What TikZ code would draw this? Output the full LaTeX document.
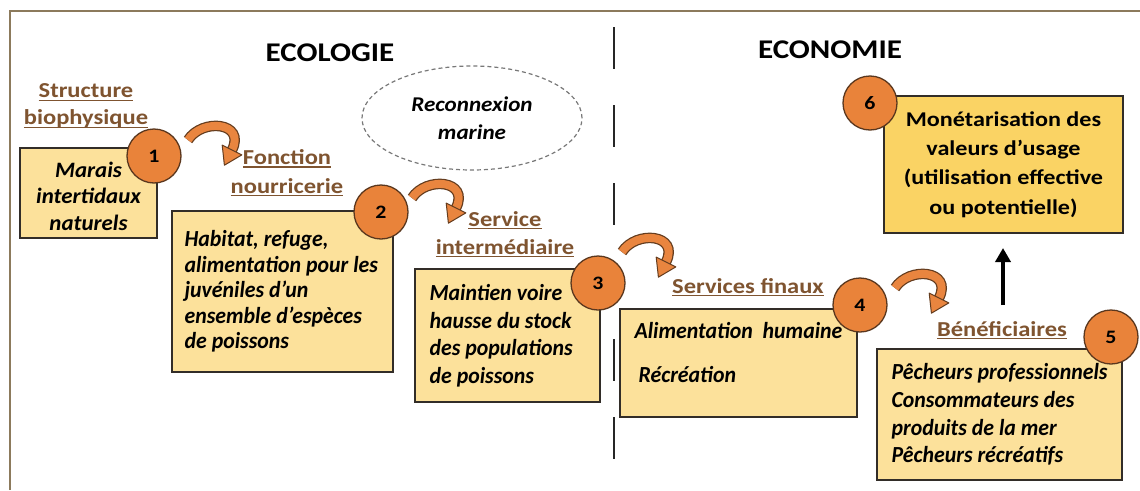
\documentclass[tikz,border=0pt]{standalone}
\usepackage{fontspec}
\setmainfont{Carlito}[FakeStretch=1.15]
\newfontfamily\fwide{Carlito}[FakeStretch=1.04]
\newfontfamily\fcond{Carlito}[FakeStretch=0.95]
\newfontfamily\fmid{Carlito}[FakeStretch=1.1]
\usetikzlibrary{shapes.geometric,arrows.meta,calc}
\newcommand{\hul}[1]{\setbox0=\hbox{#1}\hbox{\rlap{\rule[-3pt]{\wd0}{1.3pt}}\box0}}
\definecolor{boxfill}{RGB}{252,225,155}
\definecolor{boxfillsix}{RGB}{250,211,100}
\definecolor{boxline}{RGB}{50,45,40}
\definecolor{numfill}{RGB}{233,131,58}
\definecolor{numline}{RGB}{90,55,30}
\definecolor{headcol}{RGB}{127,84,48}
\definecolor{curlfill}{RGB}{233,133,63}
\definecolor{curldark}{RGB}{100,60,30}
\definecolor{framecol}{RGB}{140,122,92}
\definecolor{ellcol}{RGB}{120,120,120}
\tikzset{
  box/.style={draw=boxline, line width=1.3pt, fill=boxfill, inner sep=0pt},
  boxsix/.style={draw=boxline, line width=1.3pt, fill=boxfillsix, inner sep=0pt, align=center,
    font=\bfseries\fontsize{21}{29.3}\selectfont},
  boxtext/.style={inner sep=0pt, align=left},
  num/.style={circle, draw=numline, line width=1.3pt, fill=numfill, minimum size=54pt,
    inner sep=0pt, font=\bfseries\fontsize{19}{22}\selectfont},
  head/.style={text=headcol, align=center, inner sep=0pt},
  title/.style={font=\bfseries\fontsize{27}{30}\selectfont, inner sep=0pt},
  reco/.style={ellipse, draw=ellcol, dash pattern=on 4pt off 3pt, line width=1.2pt,
    minimum width=220pt, minimum height=104pt, align=center,
    font=\fmid\bfseries\itshape\fontsize{21}{28}\selectfont},
  divider/.style={draw=black!85, line width=1.3pt, dash pattern=on 42pt off 36pt},
  uparr/.style={draw=black, line width=3.5pt, -{Triangle[width=15pt,length=14pt]}},
  curl/.pic={
    \draw[curldark, line width=10.5pt] (0,0) .. controls (14,-22) and (58,-18) .. (44,10);
    \draw[curlfill, line width=8pt] (0,0) .. controls (14,-22) and (58,-18) .. (44,10);
    \draw[draw=curldark, fill=curlfill, line width=1pt, line join=round]
      (53.8,14.9) -- (36.4,25.2) -- (34.2,5.1) -- cycle;
  }
}
\newcommand{\bodyfont}[1]{\fcond\bfseries\itshape\fontsize{23}{#1}\selectfont}
\newcommand{\headfont}[1]{\bfseries\fontsize{21.3}{#1}\selectfont}
\begin{document}
\begin{tikzpicture}[x=1pt,y=-1pt]
\useasboundingbox (0,0) rectangle (1140,490);
\fill[white] (0,0) rectangle (1140,490);
% frame
\draw[framecol, line width=1.2pt] (10,490) -- (10,11) -- (1140,11);
% divider
\coordinate (dtop) at (614,27);
\coordinate (dbot) at (614,490);
\draw[divider] (dtop) -- (dbot);
% titles
\node[title, anchor=base] (teco) at (330,61) {ECOLOGIE};
\node[title, anchor=base] (tecn) at (830,58) {ECONOMIE};
% ellipse
\node[reco] (reco) at (472,118) {Reconnexion\\marine};
% headings
\node[head, font=\headfont{27}] (h1) at (86,106) {\hul{Structure}\\\hul{biophysique}};
\node[head, font=\headfont{28.5}] (h2) at (287,173) {\hul{Fonction}\\\hul{nourricerie}};
\node[head, font=\headfont{28}] (h3) at (505,234.5) {\hul{Service}\\\hul{intermédiaire}};
\node[head, font=\headfont{24}, anchor=base] (h4) at (748,293) {\hul{Services finaux}};
\node[head, font=\headfont{24}, anchor=base] (h5) at (1002,336) {\hul{Bénéficiaires}};
% boxes
\node[box, minimum width=137pt, minimum height=90pt] (b1) at (88.5,193) {};
\node[boxtext, align=center, font=\fwide\bfseries\itshape\fontsize{22}{26.5}\selectfont] (t1) at ([yshift=-3pt]b1.center) {Marais\\intertidaux\\naturels};
\node[box, minimum width=221pt, minimum height=161pt] (b2) at (282.5,291.5) {};
\node[boxtext, anchor=west, font=\bodyfont{25.5}] (t2) at ([xshift=13pt]b2.west) {Habitat, refuge,\\alimentation pour les\\juvéniles d’un\\ensemble d’espèces\\de poissons};
\node[box, minimum width=185pt, minimum height=133pt] (b3) at (507.5,335.5) {};
\node[boxtext, anchor=west, font=\bodyfont{27.5}] (t3) at ([xshift=15pt]b3.west) {Maintien voire\\hausse du stock\\des populations\\de poissons};
\node[box, minimum width=237pt, minimum height=108pt] (b4) at (738.5,363) {};
\node[boxtext, anchor=north west, font=\bodyfont{26}] (t4) at ([xshift=15pt,yshift=-14pt]b4.north west) {Alimentation\ \ humaine\\[18pt]\hspace{4pt}Récréation};
\node[box, minimum width=245pt, minimum height=131pt] (b5) at (999.5,414.5) {};
\node[boxtext, anchor=west, font=\bodyfont{27.7}] (t5) at ([xshift=15pt]b5.west) {Pêcheurs professionnels\\Consommateurs des\\produits de la mer\\Pêcheurs récréatifs};
\node[boxsix, minimum width=239pt, minimum height=137pt] (b6) at (1003.5,164.5) {Monétarisation des\\valeurs d’usage\\(utilisation effective\\ou potentielle)};
% numbers
\node[num] (n1) at (154,156) {1};
\node[num] (n2) at (381,212) {2};
\node[num] (n3) at (598,283) {3};
\node[num] (n4) at (860,305) {4};
\node[num] (n5) at (1111,337) {5};
\node[num] (n6) at (870,103) {6};
% curved arrows
\pic at (188,140) {curl};
\pic at (412,198) {curl};
\pic at (622,252) {curl};
\pic at (895,288) {curl};
% up arrow
\coordinate (upa) at (1003,305);
\coordinate (upb) at (1003,248);
\draw[uparr] (upa) -- (upb);
\end{tikzpicture}
\end{document}
